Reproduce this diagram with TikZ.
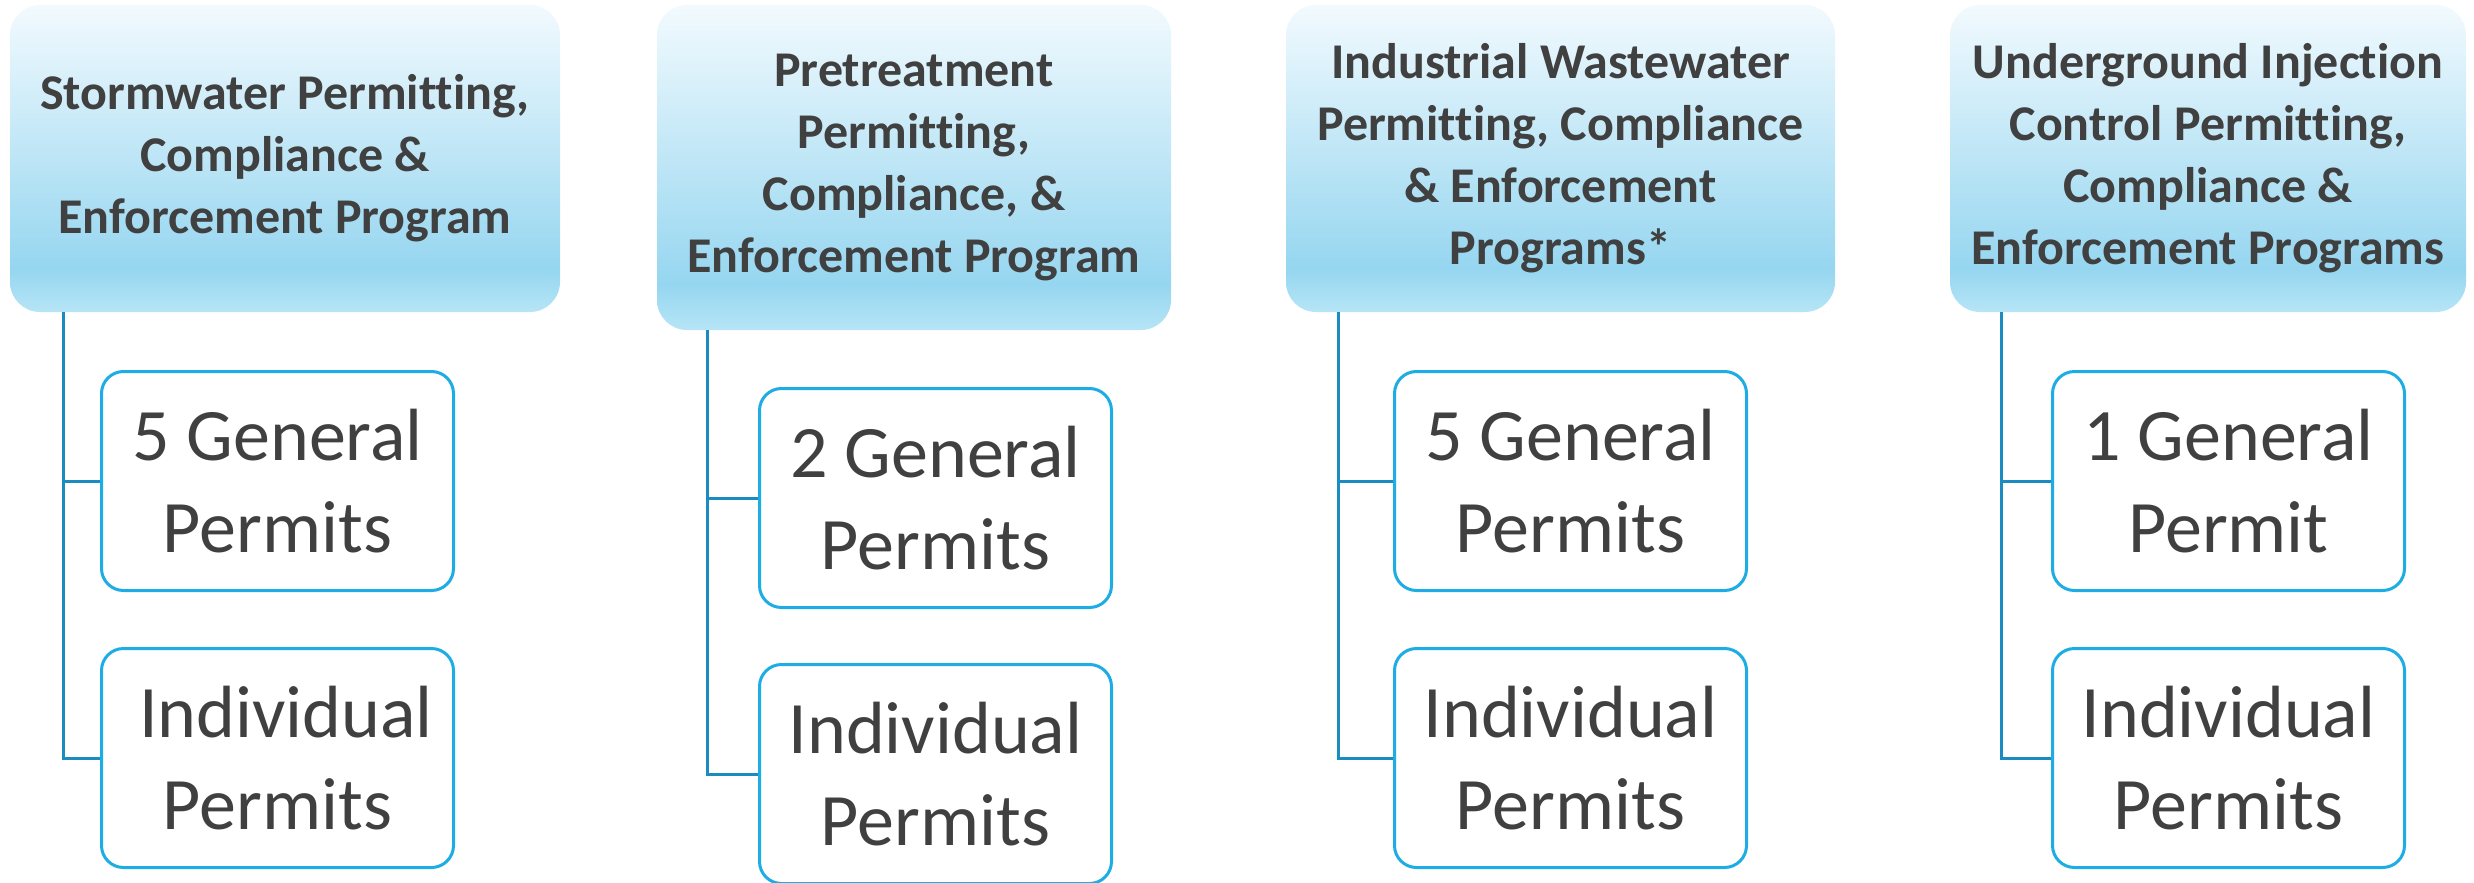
\documentclass[tikz,border=0pt]{standalone}
\usepackage{fontspec}
\setmainfont{Carlito}[Ligatures={NoCommon,NoContextual}, RawFeature={-liga;-clig;-dlig}]
\usetikzlibrary{calc}
\definecolor{txt}{HTML}{404040}
\definecolor{hTop}{HTML}{F2FAFE}
\definecolor{hMid}{HTML}{96D6F0}
\definecolor{hBot}{HTML}{B6E5F6}
\definecolor{cBox}{HTML}{1DADE4}
\definecolor{cLine}{HTML}{1A8CC0}
\pgfdeclareverticalshading{hdrshade}{100bp}{color(0bp)=(hBot); color(25bp)=(hBot); color(32bp)=(hMid); color(75bp)=(hTop); color(100bp)=(hTop)}
\tikzset{
  hdr/.style={rounded corners=30pt, shade, shading=hdrshade, text=txt,
    font=\fontsize{50}{62}\selectfont\bfseries, align=center, inner sep=0pt,
    execute at begin node={\rule{0pt}{54pt}}},
  sub/.style={draw=cBox, line width=3pt, fill=white, rounded corners=22pt, text=txt,
    font=\fontsize{74}{91.5}\selectfont, align=center, inner sep=0pt,
    minimum width=352, minimum height=219},
  conn/.style={draw=cLine, line width=3pt},
}
\begin{document}
\begin{tikzpicture}[x=1pt,y=-1pt]
\useasboundingbox (0,0) rectangle (2474,883);
% headers
\node[hdr, minimum width=550, minimum height=307] (h1) at (285,158.5)
  {Stormwater Permitting,\\Compliance \&\\Enforcement Program};
\node[hdr, minimum width=514, minimum height=325] (h2) at (914,167.5)
  {Pretreatment\\Permitting,\\Compliance, \&\\Enforcement Program};
\node[hdr, minimum width=549, minimum height=307] (h3) at (1560.5,158.5)
  {Industrial Wastewater\\Permitting, Compliance\\\& Enforcement\\Programs*};
\node[hdr, minimum width=516, minimum height=307] (h4) at (2208,158.5)
  {Underground Injection\\Control Permitting,\\Compliance \&\\Enforcement Programs};
% children
\node[sub] (g1) at (277.5,481) {5 General\\Permits};
\node[sub] (i1) at (277.5,758) {\hspace*{0.23em}Individual\\Permits};
\node[sub] (g2) at (935.5,498) {2 General\\Permits};
\node[sub] (i2) at (935.5,774) {Individual\\Permits};
\node[sub] (g3) at (1570.5,481) {5 General\\Permits};
\node[sub] (i3) at (1570.5,758) {Individual\\Permits};
\node[sub] (g4) at (2228.5,481) {1 General\\Permit};
\node[sub] (i4) at (2228.5,758) {Individual\\Permits};
% connectors
\coordinate (t1) at (h1.south -| 63,0);
\coordinate (t2) at (h2.south -| 707,0);
\coordinate (t3) at (h3.south -| 1338,0);
\coordinate (t4) at (h4.south -| 2001,0);
\draw[conn] (t1) |- (g1.west);
\draw[conn] (t1) |- (i1.west);
\draw[conn] (t2) |- (g2.west);
\draw[conn] (t2) |- (i2.west);
\draw[conn] (t3) |- (g3.west);
\draw[conn] (t3) |- (i3.west);
\draw[conn] (t4) |- (g4.west);
\draw[conn] (t4) |- (i4.west);
\end{tikzpicture}
\end{document}
